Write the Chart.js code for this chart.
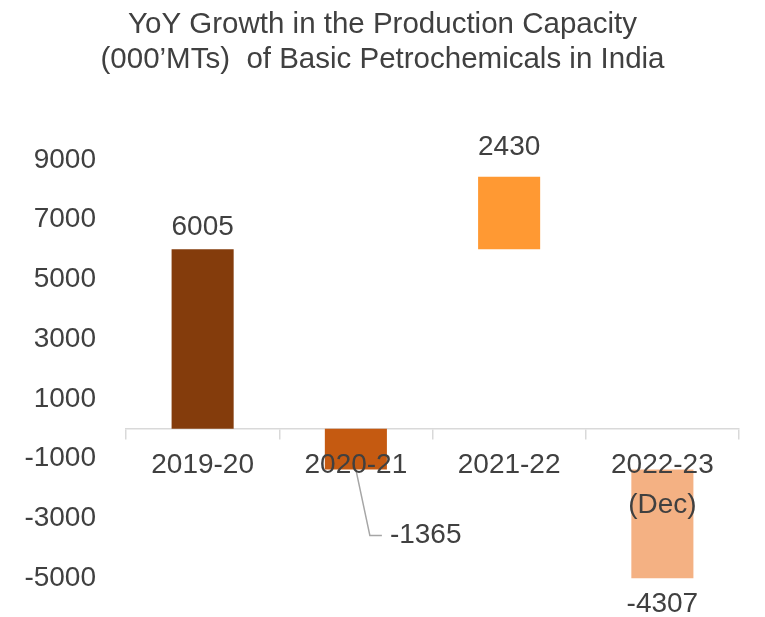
<!DOCTYPE html>
<html lang="en">
<head>
<meta charset="UTF-8">
<title>YoY Growth in the Production Capacity</title>
<script src="https://cdn.jsdelivr.net/npm/chart.js"></script>
<style>
  html, body { margin: 0; padding: 0; background: #fff; }
  #wrap { width: 765px; height: 617px; }
</style>
</head>
<body>
<div id="wrap"><canvas id="capacityChart" width="765" height="617"></canvas></div>
<script>
// data (000' MT)
const years = ['2019-20', '2020-21', '2021-22', ['2022-23', '(Dec)']];
const growth = [6005, -1365, 2430, -4307];
// each bar starts where the previous level ended (only from 2021-22 on)
const starts = [0, 0, 6005, -1365];
const barColors = ['#843C0C', '#C55A11', '#FF9933', '#F4B183'];
const yTicks = [-5000, -3000, -1000, 1000, 3000, 5000, 7000, 9000];

const floating = growth.map((g, i) => [starts[i], starts[i] + g]);

const textColor = '#404040';
const fontFamily = '"Liberation Sans", Arial, sans-serif';

// draws the value labels, with a leader line for the 2020-21 one
const valueLabels = {
  id: 'valueLabels',
  afterDatasetsDraw(chart) {
    const ctx = chart.ctx;
    const area = chart.chartArea;
    const bars = chart.getDatasetMeta(0).data;
    ctx.save();
    ctx.font = '28px ' + fontFamily;
    ctx.fillStyle = textColor;
    ctx.textBaseline = 'middle';
    bars.forEach((bar, i) => {
      const top = Math.max(Math.min(bar.y, bar.base), area.top);
      const bottom = Math.min(Math.max(bar.y, bar.base), area.bottom);
      const txt = String(growth[i]);
      if (i === 1) {
        ctx.strokeStyle = '#A6A6A6';
        ctx.lineWidth = 1.5;
        ctx.beginPath();
        ctx.moveTo(bar.x, bottom);
        ctx.lineTo(bar.x + 14, bottom + 66);
        ctx.lineTo(bar.x + 26, bottom + 66);
        ctx.stroke();
        ctx.textAlign = 'left';
        ctx.fillText(txt, bar.x + 34, bottom + 66);
      } else if (growth[i] >= 0) {
        ctx.textAlign = 'center';
        ctx.fillText(txt, bar.x, top - (i === 2 ? 29 : 22));
      } else {
        ctx.textAlign = 'center';
        ctx.fillText(txt, bar.x, bottom + 26);
      }
    });
    ctx.restore();
  }
};

new Chart(document.getElementById('capacityChart'), {
  type: 'bar',
  data: {
    labels: years,
    datasets: [{
      data: floating,
      backgroundColor: barColors,
      borderWidth: 0,
      categoryPercentage: 1,
      barPercentage: 0.405
    }]
  },
  options: {
    responsive: false,
    animation: false,
    layout: { padding: { left: 0, right: 0, top: 0, bottom: 31 } },
    plugins: {
      legend: { display: false },
      tooltip: { enabled: false },
      title: {
        display: true,
        text: ['YoY Growth in the Production Capacity', '(000\u2019MTs)  of Basic Petrochemicals in India'],
        color: textColor,
        font: { family: fontFamily, size: 29.5, weight: 'normal', lineHeight: 1.2 },
        padding: { top: 7, bottom: 82 }
      }
    },
    scales: {
      x: {
        position: { y: 0 },
        grid: {
          offset: true,
          drawOnChartArea: false,
          drawTicks: true,
          tickLength: 10,
          color: '#D9D9D9',
          lineWidth: 1.5
        },
        border: { display: true, color: '#D9D9D9', width: 1.5 },
        ticks: {
          z: 1,
          color: textColor,
          padding: 6,
          maxRotation: 0,
          font: { family: fontFamily, size: 28, lineHeight: 1.45 }
        }
      },
      y: {
        min: -5000,
        max: 9000,
        afterBuildTicks(scale) {
          scale.ticks = yTicks.map(v => ({ value: v }));
        },
        afterFit(scale) { scale.width = 126; },
        grid: { display: false },
        border: { display: false },
        ticks: {
          color: textColor,
          padding: 22,
          font: { family: fontFamily, size: 28 },
          callback: v => String(v)
        }
      },
      // empty right-hand axis, only keeps the right margin
      yRight: {
        position: 'right',
        min: -5000,
        max: 9000,
        afterFit(scale) { scale.width = 26; },
        grid: { display: false },
        border: { display: false },
        ticks: { display: false }
      }
    }
  },
  plugins: [valueLabels]
});
</script>
</body>
</html>
